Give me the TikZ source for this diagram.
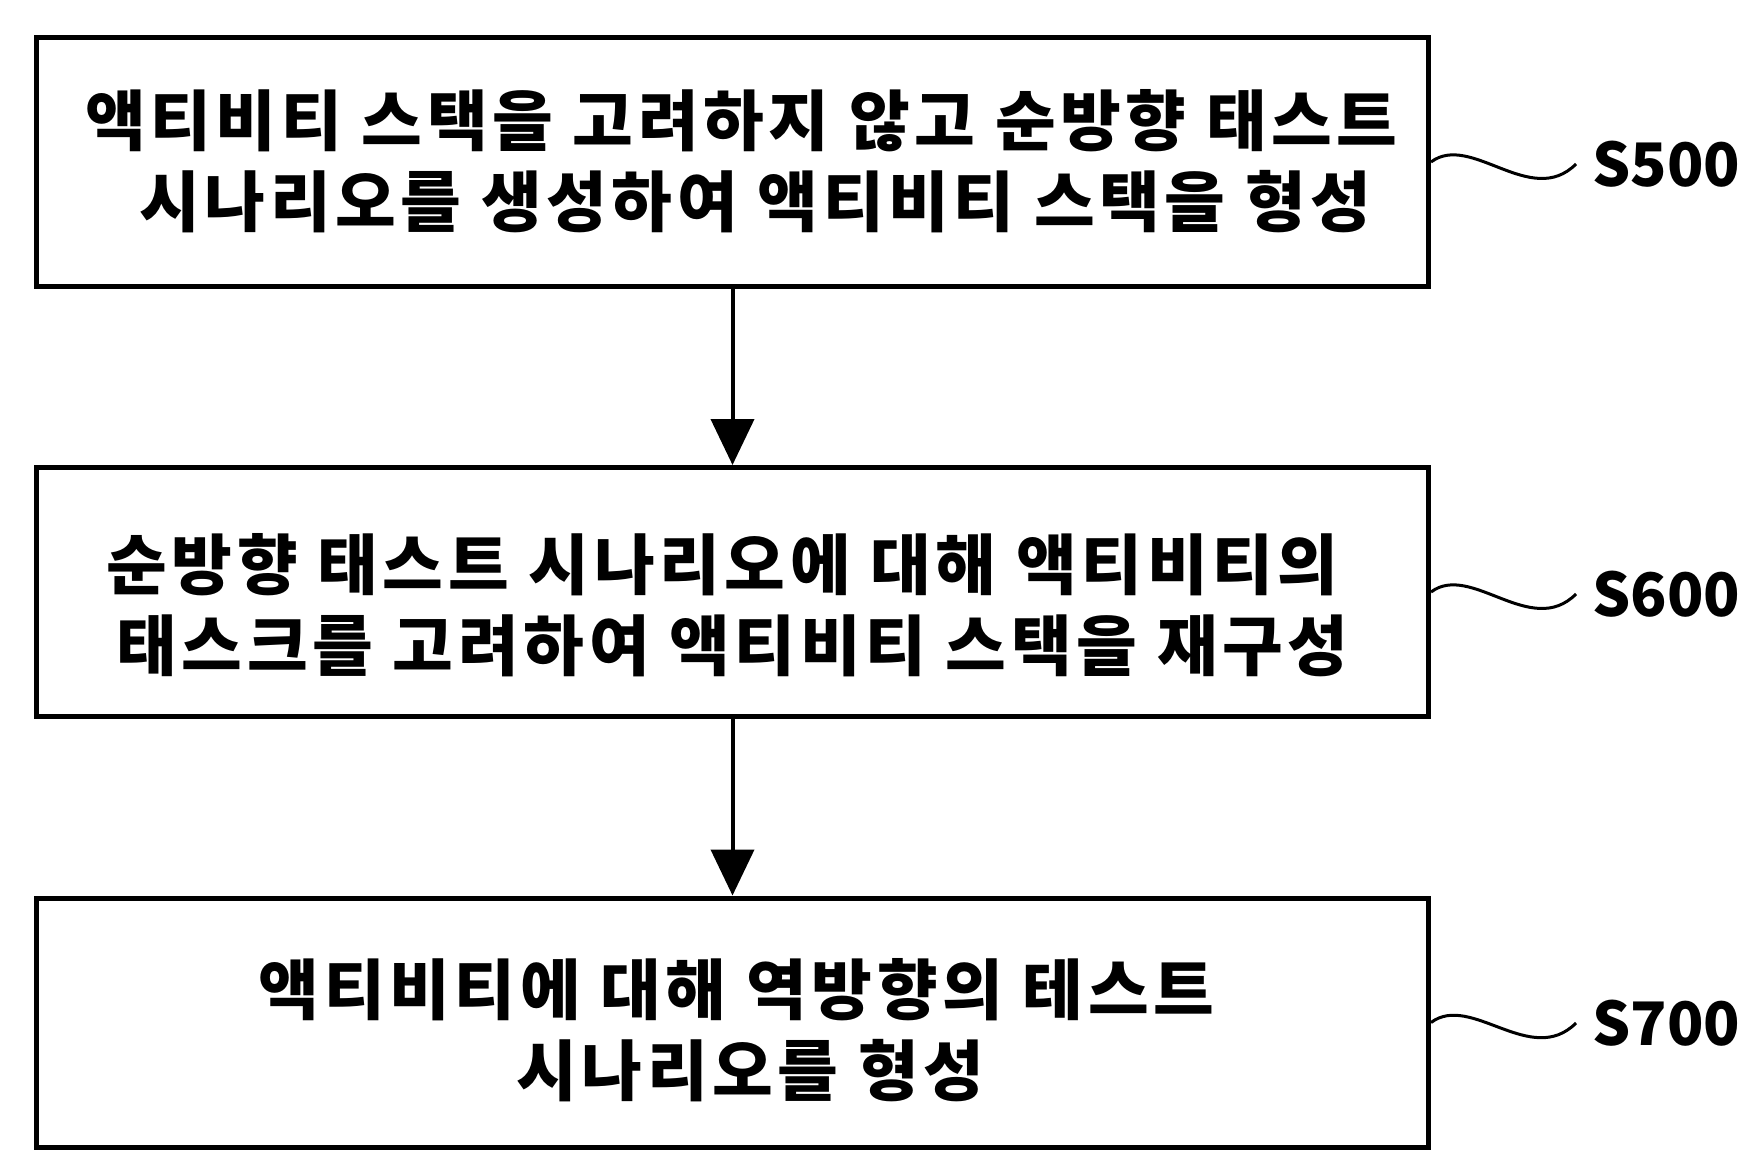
\documentclass[tikz,border=0pt]{standalone}
\usepackage{fontspec}
\usepackage{tikz}
\usetikzlibrary{arrows.meta}
\newfontfamily\kofont{Noto Sans CJK KR}[LetterSpace=7]
\newfontfamily\numfont{Noto Sans CJK KR}

\begin{document}
\begin{tikzpicture}[x=0.5pt, y=-0.5pt,
    font=\kofont\bfseries\fontsize{33pt}{40.5pt}\selectfont,
    stepbox/.style={draw, line width=2.5pt, minimum width=696pt, minimum height=124.5pt, align=center, inner sep=0pt,
        text depth=5pt, text height=#1},
    steplabel/.style={anchor=west, inner xsep=8pt, inner ysep=0pt, font=\numfont\bfseries\fontsize{30pt}{30pt}\selectfont},
    flow/.style={line width=2pt, -{Triangle[width=21.5pt, length=23pt]}},
    wave/.style={line width=1.5pt}]
    \useasboundingbox (0, 0) rectangle (1759, 1176);

    \node (s500) [stepbox=69.5pt] at (732.5, 162) {\kern9pt 액티비티 스택을 고려하지 않고 순방향 태스트\\\kern23pt 시나리오를 생성하여 액티비티 스택을 형성};
    \node (s600) [stepbox=83.5pt] at (732.5, 592) {순방향 태스트 시나리오에 대해 액티비티의\kern10pt\\태스크를 고려하여 액티비티 스택을 재구성};
    \node (s700) [stepbox=78pt] at (732.5, 1022.5) {\kern4pt 액티비티에 대해 역방향의 테스트\\\kern18pt 시나리오를 형성};

    \node (l500) [steplabel] at (1576, 164) {S500};
    \node (l600) [steplabel] at (1576, 594) {S600};
    \node (l700) [steplabel] at (1576, 1023) {S700};

    \draw[flow] (s500) -- (s600);
    \draw[flow] (s600) -- (s700);

    \draw[wave] (s500.east) .. controls +(40, -30) and +(-45, 45) .. (l500.west);
    \draw[wave] (s600.east) .. controls +(40, -30) and +(-45, 45) .. (l600.west);
    \draw[wave] (s700.east) .. controls +(40, -30) and +(-45, 45) .. (l700.west);
\end{tikzpicture}
\end{document}
